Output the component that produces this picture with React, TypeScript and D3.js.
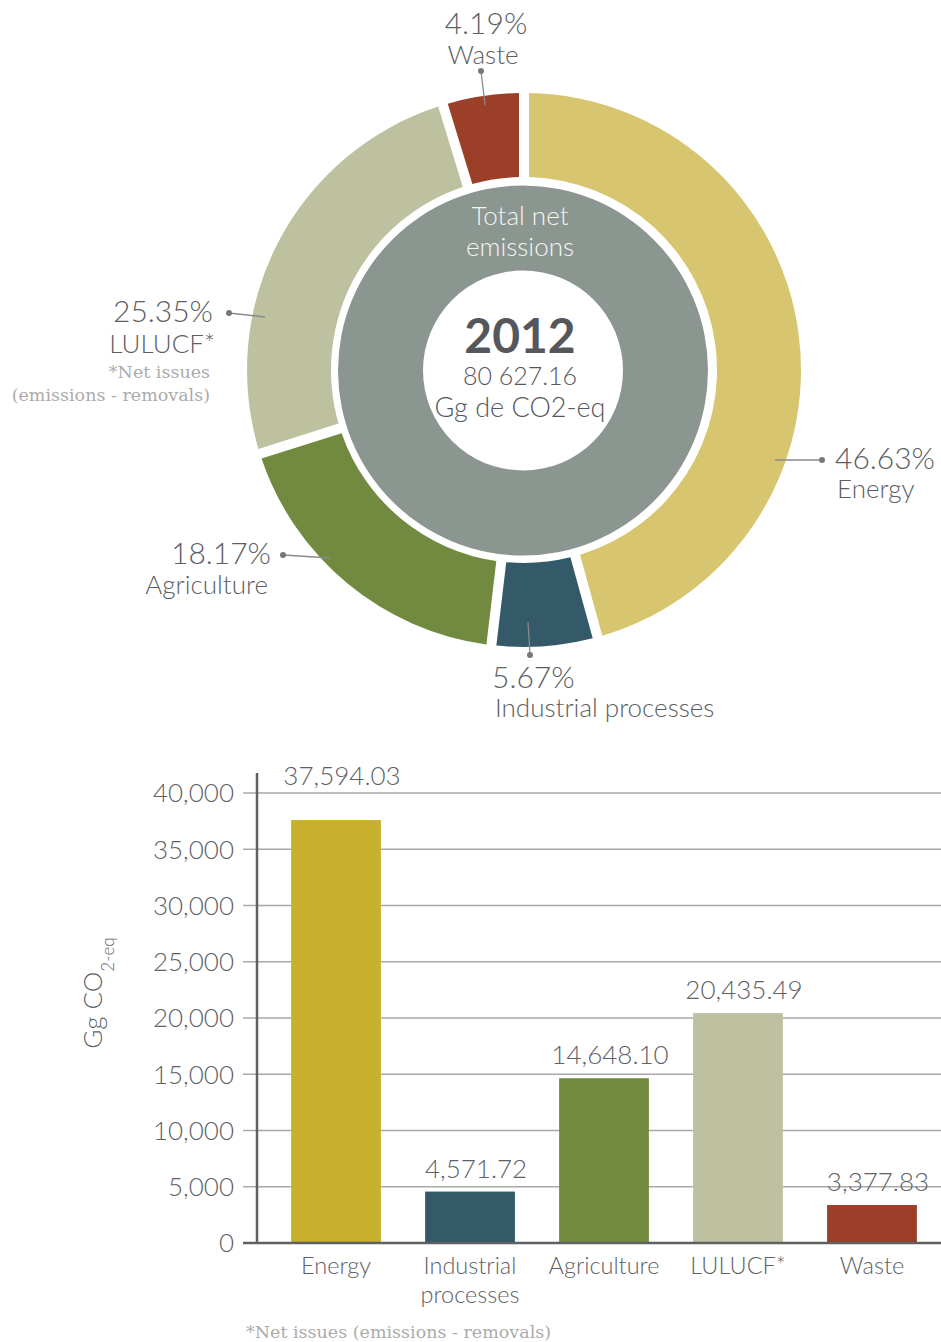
import React from "react";
import * as d3 from "d3";

// ---------- DATA ----------
const categories = ["Energy", "Industrial processes", "Agriculture", "LULUCF*", "Waste"];
const barLabels = [["Energy"], ["Industrial", "processes"], ["Agriculture"], ["LULUCF*"], ["Waste"]];
const values = [37594.03, 4571.72, 14648.1, 20435.49, 3377.83];
const valueLabels = ["37,594.03", "4,571.72", "14,648.10", "20,435.49", "3,377.83"];
const shares = [46.63, 5.67, 18.17, 25.35, 4.19];
const shareLabels = ["46.63%", "5.67%", "18.17%", "25.35%", "4.19%"];
const yTicks = [0, 5000, 10000, 15000, 20000, 25000, 30000, 35000, 40000];
const totalYear = "2012";
const totalValue = "80 627.16";
const totalUnit = "Gg de CO2-eq";

// ---------- STYLE ----------
const donutColors = ["#d8c56f", "#345a69", "#728a40", "#bec1a0", "#9b3f28"];
const barColors = ["#c7b02e", "#345a69", "#728a40", "#bec1a0", "#9b3f28"];
const textColor = "#5c5e63";
const FONT = "Lato, 'Open Sans', 'Liberation Sans', sans-serif";
const SERIF = "'DejaVu Serif', 'Liberation Serif', serif";

// donut label layout (annotation placement)
const donutLabelLayout = [
  { line: [775, 460, 822, 460], pct: [835, 469], name: [837, 498], anchor: "start" },
  { line: [528, 622, 530, 655], pct: [492, 688], name: [495, 717], anchor: "start" },
  { line: [330, 558, 283, 555], pct: [271, 564], name: [268, 594], anchor: "end" },
  { line: [265, 317, 229, 313], pct: [213, 322], name: [215, 353], anchor: "end" },
  { line: [485, 105, 481, 71], pct: [486, 34], name: [483, 64], anchor: "middle" },
];

export default function App() {
  const W = 941, H = 1342;
  const cx = 524, cy = 370;

  const pie = d3.pie<number>().sort(null).value((d) => d).padAngle(10 / 235);
  const arcs = pie(shares);
  const ringArc = d3.arc<d3.PieArcDatum<number>>().innerRadius(193).outerRadius(277).padRadius(235);
  const innerArc = d3.arc<any>()({ innerRadius: 100, outerRadius: 185, startAngle: 0, endAngle: Math.PI * 2 } as any);

  // bar chart
  const y = d3.scaleLinear().domain([0, 40000]).range([1243, 793]);
  const x = d3.scaleBand<string>().domain(categories).range([267, 941]).paddingInner(0.33).paddingOuter(0.18);
  const axisX = 257;
  const gridLeft = 243;

  return (
    <svg width={W} height={H} style={{ position: "absolute", left: 0, top: 0, background: "#fff" }} fontFamily={FONT}>
      {/* ---------- DONUT ---------- */}
      <g transform={`translate(${cx},${cy})`}>
        {arcs.map((a, i) => (
          <path key={i} d={ringArc(a) || ""} fill={donutColors[i]} />
        ))}
        <path d={innerArc || ""} fill="#8c9691" transform="translate(-1,0.5)" />
      </g>
      <g textAnchor="middle">
        <text x={cx - 4} y={225} fontSize={26} fontWeight={300} fill="#f4f4f2">Total net</text>
        <text x={cx - 4} y={256} fontSize={26} fontWeight={300} fill="#f4f4f2">emissions</text>
        <text x={cx - 4} y={353} fontSize={48} fontWeight={700} fill="#55575c">{totalYear}</text>
        <text x={cx - 4} y={385} fontSize={25} fontWeight={300} fill="#55575c">{totalValue}</text>
        <text x={cx - 4} y={417} fontSize={27} fontWeight={300} fill="#55575c">{totalUnit}</text>
      </g>
      {donutLabelLayout.map((l, i) => (
        <g key={i}>
          <line x1={l.line[0]} y1={l.line[1]} x2={l.line[2]} y2={l.line[3]} stroke="#8a8a8a" strokeWidth={1.3} />
          <circle cx={l.line[2]} cy={l.line[3]} r={3} fill="#777" />
          <text x={l.pct[0]} y={l.pct[1]} fontSize={30} fontWeight={300} fill={textColor} textAnchor={l.anchor as any}>
            {shareLabels[i]}
          </text>
          <text x={l.name[0]} y={l.name[1]} fontSize={26} fontWeight={300} fill={textColor} textAnchor={l.anchor as any}>
            {categories[i]}
          </text>
        </g>
      ))}
      <g textAnchor="end" fontFamily={SERIF} fontSize={17.5} fontWeight={300} fill="#ababab">
        <text x={210} y={378}>*Net issues</text>
        <text x={210} y={401}>(emissions - removals)</text>
      </g>

      {/* ---------- BAR CHART ---------- */}
      {yTicks.map((t) => (
        <g key={t}>
          {t > 0 && <line x1={gridLeft} x2={W} y1={y(t)} y2={y(t)} stroke="#a9a9a9" strokeWidth={1.4} />}
          <text x={234} y={y(t)} dy="0.36em" textAnchor="end" fontSize={26} fontWeight={300} fill="#606166">
            {d3.format(",")(t)}
          </text>
        </g>
      ))}
      {categories.map((c, i) => {
        const bx = x(c) as number;
        const bw = x.bandwidth();
        const top = y(values[i]);
        const labelY = top - 14 < y(40000) + 20 ? y(40000) - 8 : top - 14;
        return (
          <g key={c}>
            <rect x={bx} y={top} width={bw} height={y(0) - top} fill={barColors[i]} />
            <text x={bx + bw / 2 + 6} y={labelY} textAnchor="middle" fontSize={26} fontWeight={300} fill="#606166">
              {valueLabels[i]}
            </text>
            {barLabels[i].map((ln, j) => (
              <text key={j} x={bx + bw / 2} y={1274 + j * 29} textAnchor="middle" fontSize={23.5} fontWeight={300} fill="#606166">
                {ln}
              </text>
            ))}
          </g>
        );
      })}
      <line x1={axisX} x2={axisX} y1={773} y2={y(0)} stroke="#5f6064" strokeWidth={2.5} />
      <line x1={gridLeft} x2={W} y1={y(0)} y2={y(0)} stroke="#5f6064" strokeWidth={2.5} />
      <text transform={`translate(102,993) rotate(-90)`} textAnchor="middle" fontSize={26} fontWeight={300} fill="#606166">
        Gg CO<tspan fontSize={17} dy={12}>2-eq</tspan>
      </text>
      <text x={246} y={1338} fontFamily={SERIF} fontSize={17.5} fontWeight={300} fill="#ababab">
        *Net issues (emissions - removals)
      </text>
    </svg>
  );
}
